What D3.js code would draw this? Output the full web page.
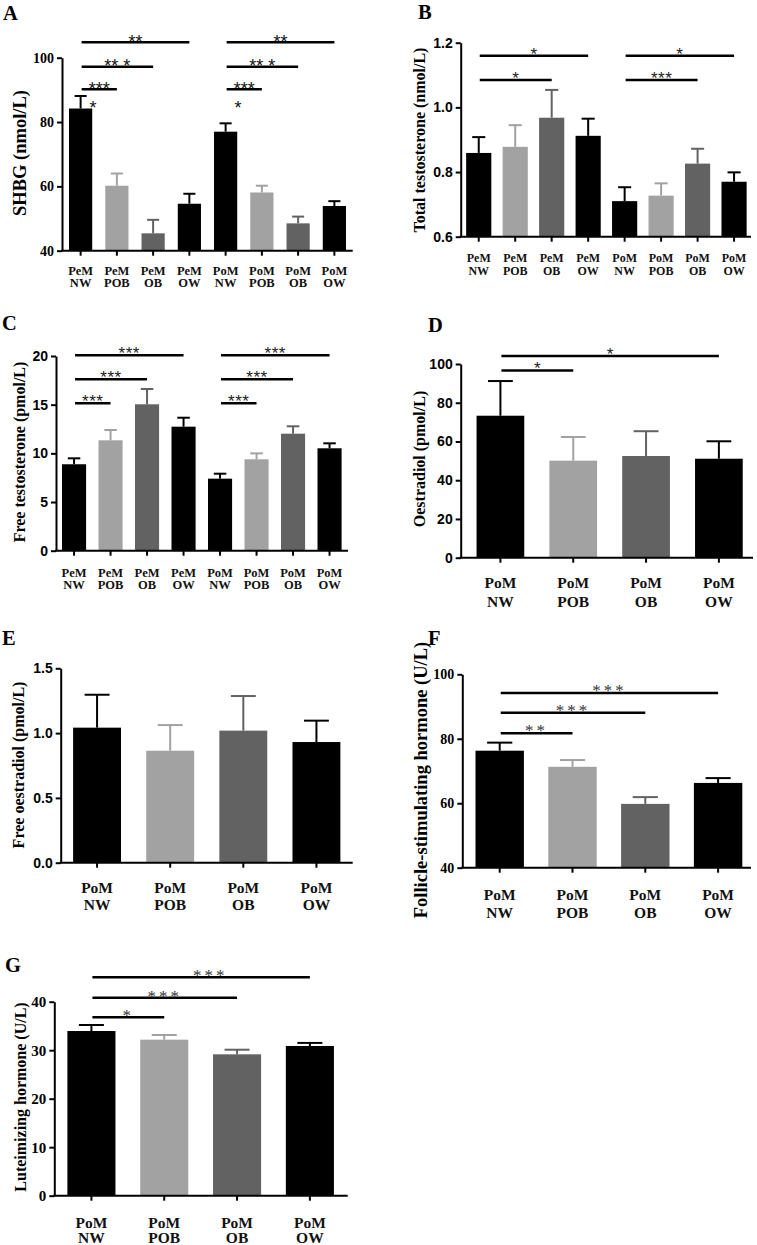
<!DOCTYPE html>
<html><head><meta charset="utf-8">
<script src="https://cdn.jsdelivr.net/npm/d3@7"></script>
<style>body{margin:0;background:#fff}svg{display:block}</style>
</head><body>
<svg id="fig" width="757" height="1245"></svg>
<script>
// ---------- DATA ----------
const groups8 = ["PeM NW","PeM POB","PeM OB","PeM OW","PoM NW","PoM POB","PoM OB","PoM OW"];
const groups4 = ["PoM NW","PoM POB","PoM OB","PoM OW"];

const shbgTicks = [40, 60, 80, 100];
const shbgMean = [84.2, 60.2, 45.4, 54.6, 77.0, 58.1, 48.5, 53.9];
const shbgErr  = [3.9, 3.8, 4.2, 3.1, 2.6, 2.1, 2.1, 1.5];
const shbgSig  = [[0,3,"**"],[0,2,"** *"],[0,1,"***"],[4,7,"**"],[4,6,"** *"],[4,5,"***"]];
const shbgExtraStars = [[0,"*"],[4,"*"]];

const ttTicks = [0.6, 0.8, 1.0, 1.2];
const ttMean = [0.859, 0.878, 0.968, 0.912, 0.710, 0.727, 0.826, 0.770];
const ttErr  = [0.049, 0.067, 0.086, 0.053, 0.043, 0.038, 0.046, 0.029];
const ttSig  = [[0,3,"*"],[0,2,"*"],[4,7,"*"],[4,6,"***"]];

const ftTicks = [0, 5, 10, 15, 20];
const ftMean = [8.88, 11.34, 15.04, 12.74, 7.40, 9.39, 12.02, 10.52];
const ftErr  = [0.61, 1.06, 1.57, 0.92, 0.51, 0.61, 0.76, 0.51];
const ftSig  = [[0,3,"***"],[0,2,"***"],[0,1,"***"],[4,7,"***"],[4,6,"***"],[4,5,"***"]];

const e2Ticks = [0, 20, 40, 60, 80, 100];
const e2Mean = [73.3, 50.1, 52.5, 51.1];
const e2Err  = [17.9, 12.2, 12.8, 9.0];
const e2Sig  = [[0,3,"*"],[0,1,"*"]];

const fe2Ticks = [0, 0.5, 1.0, 1.5];
const fe2Mean = [1.042, 0.864, 1.019, 0.931];
const fe2Err  = [0.254, 0.198, 0.267, 0.165];
const fe2Sig  = [];

const fshTicks = [40, 60, 80, 100];
const fshMean = [76.3, 71.3, 59.8, 66.3];
const fshErr  = [2.5, 2.1, 2.1, 1.5];
const fshSig  = [[0,3,"***"],[0,2,"***"],[0,1,"**"]];

const lhTicks = [0, 10, 20, 30, 40];
const lhMean = [33.96, 32.17, 29.15, 30.87];
const lhErr  = [1.24, 0.96, 0.95, 0.63];
const lhSig  = [[0,3,"***"],[0,2,"***"],[0,1,"*"]];

// ---------- STYLE / LAYOUT ----------
const serif = "'Liberation Serif','Times New Roman',Times,serif";
const sans = "Arial,'Liberation Sans',Helvetica,sans-serif";
const barColors = {NW:"#000000", POB:"#a2a2a2", OB:"#626262", OW:"#000000"};

const panels = [
 {letter:"A", lx:3, ly:20, cats:groups8, mean:shbgMean, err:shbgErr, sig:shbgSig, ticks:shbgTicks,
  domain:[40,100], yAxisX:62, xRange:[62.5,352.5], xAxisEnd:352.7, yRange:[250.7,57.7], pad:0.36,
  tickFont:serif, tickSize:14, fmt:"d", xFont:12.5, xBase:[275,287],
  title:"SHBG (nmol/L)", titleX:26, titleY:153, titleSize:18.5,
  levels:[104.8,97.2,90.2,104.8,97.2,90.2], starFont:sans, starSize:18, starFill:"#111", starDy:5.5, starLS:0,
  extra:shbgExtraStars, extraV:84.3, extraDx:12.5},
 {letter:"B", lx:418, ly:19, cats:groups8, mean:ttMean, err:ttErr, sig:ttSig, ticks:ttTicks,
  domain:[0.6,1.2], yAxisX:460.7, xRange:[460.5,752.3], xAxisEnd:751, yRange:[236.7,42.7], pad:0.31,
  tickFont:sans, tickSize:14, fmt:".1f", xFont:12, xBase:[262,275],
  title:"Total testosterone (nmol/L)", titleX:425, titleY:140, titleSize:16,
  levels:[1.160,1.085,1.160,1.085], starFont:sans, starSize:17, starFill:"#222", starDy:4, starLS:0.5},
 {letter:"C", lx:2, ly:330, cats:groups8, mean:ftMean, err:ftErr, sig:ftSig, ticks:ftTicks,
  domain:[0,20], yAxisX:56, xRange:[55.8,347.8], xAxisEnd:348, yRange:[550.7,356], pad:0.34,
  tickFont:sans, tickSize:14, fmt:"d", xFont:12.5, xBase:[577,589],
  title:"Free testosterone (pmol/L)", titleX:24.5, titleY:452, titleSize:16,
  levels:[20.07,17.6,15.14,20.07,17.6,15.14], starFont:sans, starSize:17, starFill:"#222", starDy:4, starLS:0.5},
 {letter:"D", lx:428, ly:332, cats:groups4, mean:e2Mean, err:e2Err, sig:e2Sig, ticks:e2Ticks,
  domain:[0,100], yAxisX:460.7, xRange:[464,755.3], xAxisEnd:753, yRange:[557.7,364], pad:0.345,
  tickFont:sans, tickSize:14, fmt:"d", xFont:15.5, xBase:[588,607],
  title:"Oestradiol (pmol/L)", titleX:425, titleY:459, titleSize:16,
  levels:[104.1,96.7], starFont:sans, starSize:17, starFill:"#222", starDy:4, starLS:0},
 {letter:"E", lx:2, ly:645, cats:groups4, mean:fe2Mean, err:fe2Err, sig:fe2Sig, ticks:fe2Ticks,
  domain:[0,1.5], yAxisX:60.7, xRange:[60.5,353], xAxisEnd:352.7, yRange:[862.7,668.3], pad:0.345,
  tickFont:sans, tickSize:14, fmt:".1f", xFont:15.5, xBase:[893,910],
  title:"Free oestradiol (pmol/L)", titleX:24, titleY:765, titleSize:16,
  levels:[], starFont:sans, starSize:17, starFill:"#222", starDy:4, starLS:0},
 {letter:"F", lx:428, ly:645, cats:groups4, mean:fshMean, err:fshErr, sig:fshSig, ticks:fshTicks,
  domain:[40,100], yAxisX:462.3, xRange:[463.3,754.5], xAxisEnd:751, yRange:[867.7,674.3], pad:0.335,
  tickFont:serif, tickSize:14, fmt:"d", xFont:15.5, xBase:[900,918],
  title:"Follicle-stimulating hormone (U/L)", titleX:426.5, titleY:780, titleSize:18.5,
  levels:[94.2,88.1,81.7], starFont:serif, starSize:17, starFill:"#333", starDy:3, starLS:3},
 {letter:"G", lx:5, ly:972, cats:groups4, mean:lhMean, err:lhErr, sig:lhSig, ticks:lhTicks,
  domain:[0,40], yAxisX:54.3, xRange:[55,346.3], xAxisEnd:347.7, yRange:[1195.7,1001.7], pad:0.34,
  tickFont:serif, tickSize:15, fmt:"d", xFont:15.5, xBase:[1228,1243],
  title:"Luteimizing hormone (U/L)", titleX:26, titleY:1097, titleSize:16,
  levels:[45.03,40.82,36.78], labelDx:[9,0,0], starFont:serif, starSize:17, starFill:"#333", starDy:4, starLS:3}
];

const svg = d3.select("#fig");

panels.forEach(p => {
  const g = svg.append("g");
  const x = d3.scaleBand().domain(p.cats).range(p.xRange).paddingInner(p.pad).paddingOuter(p.pad/2);
  const y = d3.scaleLinear().domain(p.domain).range(p.yRange);
  const bw = x.bandwidth();
  const cx = c => x(c) + bw/2;
  const data = p.cats.map((c,i) => ({c, m:p.mean[i], e:p.err[i], col:barColors[c.split(" ")[1]]}));

  g.append("text").attr("x", p.lx).attr("y", p.ly).text(p.letter)
    .style("font-family", serif).style("font-weight", "bold").style("font-size", "20.5px");

  g.selectAll("rect.bar").data(data).join("rect").attr("class","bar")
    .attr("x", d => x(d.c)).attr("width", bw)
    .attr("y", d => y(d.m)).attr("height", d => y(p.domain[0]) - y(d.m))
    .attr("fill", d => d.col);

  const capW = bw * 0.52;
  g.selectAll("line.ev").data(data).join("line").attr("class","ev")
    .attr("x1", d => cx(d.c)).attr("x2", d => cx(d.c))
    .attr("y1", d => y(d.m)).attr("y2", d => y(d.m + d.e))
    .attr("stroke", d => d.col).attr("stroke-width", 2);
  g.selectAll("line.ec").data(data).join("line").attr("class","ec")
    .attr("x1", d => cx(d.c) - capW/2).attr("x2", d => cx(d.c) + capW/2)
    .attr("y1", d => y(d.m + d.e)).attr("y2", d => y(d.m + d.e))
    .attr("stroke", d => d.col).attr("stroke-width", 2);

  const ya = g.append("g").attr("transform", `translate(${p.yAxisX},0)`)
    .call(d3.axisLeft(y).tickValues(p.ticks).tickSize(5).tickSizeOuter(0).tickPadding(3).tickFormat(d3.format(p.fmt)));
  ya.attr("font-family", null);
  ya.select(".domain").attr("stroke","#000").attr("stroke-width",2);
  ya.selectAll(".tick line").attr("stroke","#000").attr("stroke-width",2);
  ya.selectAll(".tick text").style("font-family", p.tickFont).style("font-weight","bold")
    .style("font-size", p.tickSize + "px").attr("fill","#000");

  const base = y(p.domain[0]);
  const xa = g.append("g").attr("transform", `translate(0,${base})`)
    .call(d3.axisBottom(x).tickSize(5).tickSizeOuter(0).tickFormat(""));
  xa.select(".domain").remove();
  xa.selectAll(".tick line").attr("stroke","#000").attr("stroke-width",2);
  g.append("line").attr("x1", p.yAxisX - 1).attr("x2", p.xAxisEnd).attr("y1", base).attr("y2", base)
    .attr("stroke","#000").attr("stroke-width",2);

  p.cats.forEach(c => {
    c.split(" ").forEach((t, k) => {
      g.append("text").attr("x", cx(c)).attr("y", p.xBase[k]).attr("text-anchor","middle")
        .style("font-family", serif).style("font-weight","bold").style("font-size", p.xFont + "px")
        .attr("fill","#111").text(t);
    });
  });

  g.append("text").attr("transform", `translate(${p.titleX},${p.titleY}) rotate(-90)`)
    .attr("text-anchor","middle").style("font-family", serif).style("font-weight","bold")
    .style("font-size", p.titleSize + "px").attr("fill","#000").text(p.title);

  p.sig.forEach((s, k) => {
    const x1 = cx(p.cats[s[0]]) + 1, x2 = cx(p.cats[s[1]]);
    const ly = y(p.levels[k]);
    g.append("line").attr("x1", x1).attr("x2", x2).attr("y1", ly).attr("y2", ly)
      .attr("stroke","#000").attr("stroke-width",2.5);
    const dx = p.labelDx ? p.labelDx[k] : 0;
    g.append("text").attr("x", (x1 + x2)/2 + dx).attr("y", ly + p.starDy).attr("text-anchor","middle")
      .style("font-family", p.starFont).style("font-size", p.starSize + "px").attr("fill", p.starFill)
      .style("letter-spacing", p.starLS + "px").text(s[2]);
  });

  if (p.extra) {
    p.extra.forEach(e => {
      g.append("text").attr("x", cx(p.cats[e[0]]) + p.extraDx).attr("y", y(p.extraV) + p.starDy)
        .attr("text-anchor","middle").style("font-family", p.starFont).style("font-size", p.starSize + "px")
        .attr("fill", p.starFill).text(e[1]);
    });
  }
});
</script>
</body></html>
